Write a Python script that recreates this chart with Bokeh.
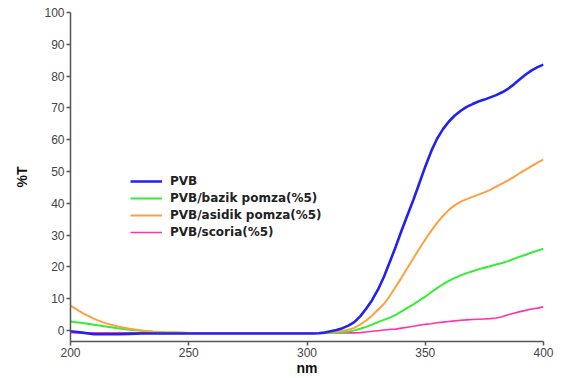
from bokeh.plotting import figure
from bokeh.models import Range1d, Legend, LegendItem, FixedTicker
from bokeh.embed import file_html
from bokeh.resources import INLINE

# wavelength (nm): 5 nm steps up to 295, then 2.5 nm steps
wavelength = [200, 205, 210, 215, 220, 225, 230, 235, 240, 245,
              250, 255, 260, 265, 270, 275, 280, 285, 290, 295,
              300, 302.5, 305, 307.5, 310, 312.5, 315, 317.5, 320, 322.5,
              325, 327.5, 330, 332.5, 335, 337.5, 340, 342.5, 345, 347.5,
              350, 352.5, 355, 357.5, 360, 362.5, 365, 367.5, 370, 372.5,
              375, 377.5, 380, 382.5, 385, 387.5, 390, 392.5, 395, 397.5,
              400]

pvb = [-0.3, -0.7, -1.2, -1.2, -1.2, -1.1, -1.0, -1.0, -1.0, -1.0,
       -1.0, -1.0, -1.0, -1.0, -1.0, -1.0, -1.0, -1.0, -1.0, -1.0,
       -1.0, -1.0, -0.9, -0.7, -0.3, 0.1, 0.7, 1.5, 2.6, 4.4,
       6.8, 9.5, 12.8, 16.8, 21.5, 26.3, 31.4, 36.3, 41.1, 46.3,
       51.5, 56.3, 60.3, 63.3, 65.7, 67.6, 69.1, 70.3, 71.2, 72.0,
       72.6, 73.3, 74.0, 74.9, 76.0, 77.4, 79.0, 80.5, 81.8, 82.8,
       83.6]

bazik = [2.8, 2.3, 1.8, 1.2, 0.7, 0.2, -0.1, -0.4, -0.6, -0.7,
         -0.8, -0.8, -0.8, -0.8, -0.8, -0.8, -0.8, -0.8, -0.8, -0.8,
         -0.8, -0.8, -0.8, -0.8, -0.8, -0.7, -0.6, -0.4, 0.0, 0.5,
         1.1, 1.8, 2.6, 3.3, 4.0, 4.9, 6.0, 7.1, 8.2, 9.4,
         10.6, 12.0, 13.3, 14.5, 15.6, 16.5, 17.3, 18.0, 18.6, 19.2,
         19.7, 20.2, 20.7, 21.2, 21.8, 22.5, 23.2, 23.8, 24.5, 25.1,
         25.7]

asidik = [7.8, 5.5, 3.6, 2.2, 1.2, 0.5, 0.0, -0.4, -0.6, -0.7,
          -0.8, -0.8, -0.8, -0.8, -0.8, -0.8, -0.8, -0.8, -0.8, -0.8,
          -0.8, -0.8, -0.8, -0.7, -0.6, -0.4, -0.1, 0.2, 0.8, 1.8,
          3.1, 4.7, 6.5, 8.3, 10.8, 13.7, 16.6, 19.7, 22.7, 25.7,
          28.6, 31.3, 33.8, 36.0, 37.9, 39.4, 40.5, 41.3, 42.0, 42.7,
          43.4, 44.2, 45.2, 46.2, 47.2, 48.3, 49.5, 50.6, 51.7, 52.8,
          53.8]

scoria = [-0.7, -0.8, -0.8, -0.8, -0.8, -0.8, -0.8, -0.8, -0.8, -0.8,
          -0.8, -0.8, -0.8, -0.8, -0.8, -0.8, -0.8, -0.8, -0.8, -0.8,
          -0.8, -0.8, -0.8, -0.8, -0.8, -0.8, -0.8, -0.8, -0.8, -0.7,
          -0.5, -0.3, -0.1, 0.1, 0.3, 0.4, 0.7, 1.0, 1.3, 1.6,
          1.9, 2.1, 2.4, 2.6, 2.8, 3.0, 3.2, 3.3, 3.4, 3.5,
          3.6, 3.7, 3.9, 4.3, 4.9, 5.4, 5.9, 6.3, 6.7, 7.0,
          7.4]

series_labels = ["PVB", "PVB/bazik pomza(%5)", "PVB/asidik pomza(%5)", "PVB/scoria(%5)"]
x_ticks = [200, 250, 300, 350, 400]
y_ticks = [0, 10, 20, 30, 40, 50, 60, 70, 80, 90, 100]

p = figure(width=567, height=378, output_backend="svg", toolbar_location=None,
           x_range=Range1d(200, 400), y_range=Range1d(-3.5, 100),
           min_border_left=70, min_border_right=24, min_border_top=12, min_border_bottom=35)
p.outline_line_color = None
p.grid.visible = False
p.background_fill_color = "white"

r_scoria = p.line(wavelength, scoria, line_color="#ff33aa", line_width=1.6)
r_bazik = p.line(wavelength, bazik, line_color="#33ee33", line_width=2)
r_asidik = p.line(wavelength, asidik, line_color="#ffa040", line_width=2)
r_pvb = p.line(wavelength, pvb, line_color="#2222ee", line_width=2.6)

for ax in (p.xaxis[0], p.yaxis[0]):
    ax.axis_line_color = "#555555"
    ax.axis_line_width = 1.5
    ax.major_tick_line_color = "#555555"
    ax.major_tick_line_width = 1.5
    ax.major_tick_out = 4
    ax.major_tick_in = 0
    ax.minor_tick_line_color = None
    ax.major_label_text_font = "Liberation Sans"
    ax.major_label_text_font_size = "12px"
    ax.major_label_text_color = "#444444"
    ax.major_label_standoff = 2
    ax.axis_label_text_font = "Liberation Sans"
    ax.axis_label_text_font_style = "bold"
    ax.axis_label_text_font_size = "14px"
    ax.axis_label_text_color = "#111111"

p.xaxis[0].ticker = FixedTicker(ticks=x_ticks)
p.yaxis[0].ticker = FixedTicker(ticks=y_ticks)
p.xaxis[0].axis_label = "nm"
p.xaxis[0].axis_label_standoff = 0
p.yaxis[0].axis_label = "%T"
p.yaxis[0].axis_label_standoff = 11

legend = Legend(items=[
    LegendItem(label=series_labels[0], renderers=[r_pvb]),
    LegendItem(label=series_labels[1], renderers=[r_bazik]),
    LegendItem(label=series_labels[2], renderers=[r_asidik]),
    LegendItem(label=series_labels[3], renderers=[r_scoria]),
], location=(60, 102))
legend.border_line_color = None
legend.background_fill_alpha = 0
legend.padding = 0
legend.margin = 0
legend.spacing = 3
legend.glyph_width = 32
legend.glyph_height = 14
legend.label_height = 14
legend.label_standoff = 8
legend.label_text_font = "DejaVu Sans"
legend.label_text_font_style = "bold"
legend.label_text_font_size = "12px"
legend.label_text_color = "#222222"
p.add_layout(legend, "center")

open("out.html", "w").write(file_html(p, INLINE))
